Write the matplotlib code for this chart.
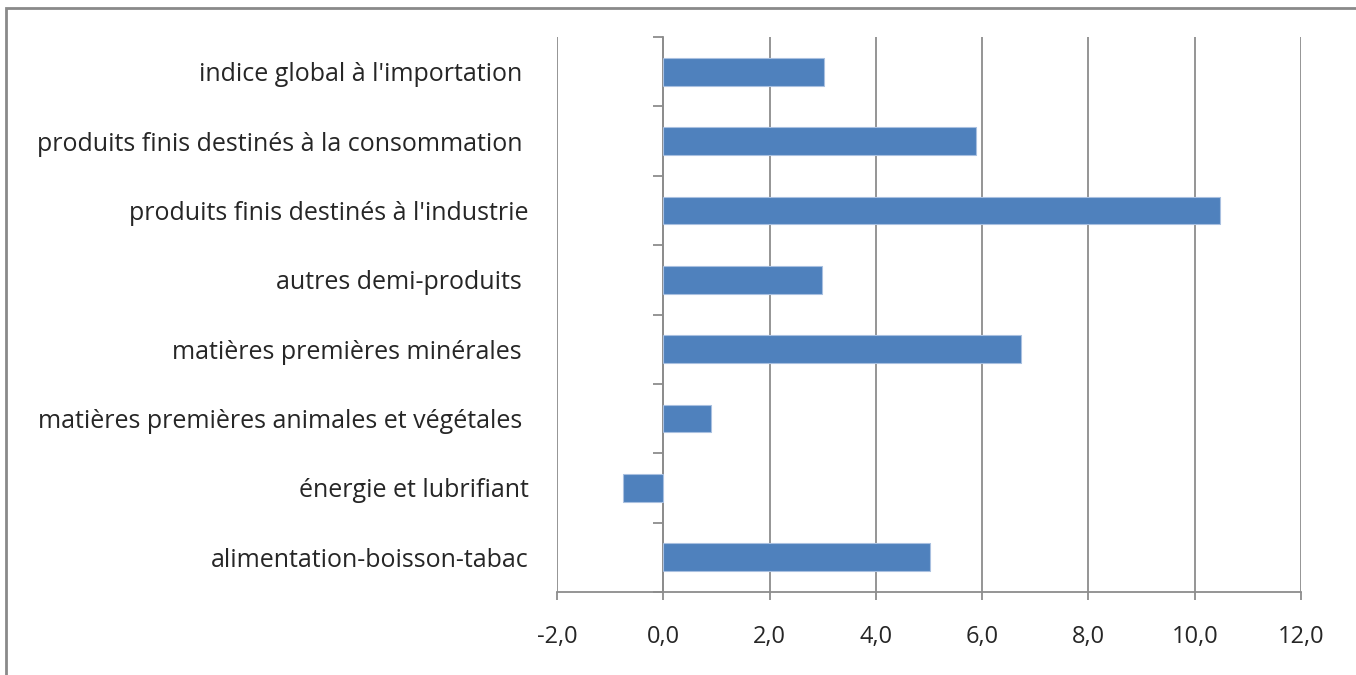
import matplotlib
matplotlib.use("Agg")
import matplotlib.pyplot as plt
from matplotlib.patches import Rectangle
from matplotlib.ticker import FixedLocator, FuncFormatter

categories = [
    "alimentation-boisson-tabac",
    "énergie et lubrifiant",
    "matières premières animales et végétales ",
    "matières premières minérales ",
    "autres demi-produits ",
    "produits finis destinés à l'industrie",
    "produits finis destinés à la consommation ",
    "indice global à l'importation ",
]
values = [5.01, -0.75, 0.90, 6.74, 2.98, 10.47, 5.88, 3.03]
xticks = [-2, 0, 2, 4, 6, 8, 10, 12]

plt.rcParams['font.family'] = ['Open Sans', 'DejaVu Sans']

fig = plt.figure(figsize=(13.56, 6.75), dpi=100)
ax = fig.add_axes([557/1356, 1-592/675, (1301-557)/1356, (592-37)/675])

grid_col = '#8c8c8c'
text_col = '#262626'

y = list(range(len(categories)))
ax.barh(y, values, height=0.4, color='#4f81bd', edgecolor='#a9c0e0', linewidth=0.8, zorder=3)

ax.set_xlim(-2, 12)
ax.set_ylim(-0.5, len(categories) - 0.5)
ax.set_xticks(xticks)
ax.xaxis.set_major_formatter(FuncFormatter(lambda v, p: f"{v:.1f}".replace('.', ',')))
ax.grid(axis='x', color=grid_col, linewidth=1.3, zorder=0)

for s in ['top', 'right']:
    ax.spines[s].set_visible(False)
ax.spines['bottom'].set_color(grid_col)
ax.spines['bottom'].set_linewidth(1.3)
ax.spines['left'].set_position(('data', 0))
ax.spines['left'].set_color(grid_col)
ax.spines['left'].set_linewidth(1.3)

ax.set_yticks(y)
ax.set_yticklabels(categories)
ax.yaxis.set_minor_locator(FixedLocator([i + 0.5 for i in range(-1, len(categories))]))
ax.tick_params(axis='y', which='major', length=0, pad=97, labelsize=18, labelcolor=text_col)
ax.tick_params(axis='y', which='minor', length=7, width=1.3, color=grid_col)
ax.tick_params(axis='x', which='major', length=6, width=1.3, color=grid_col,
               labelsize=17, labelcolor=text_col, pad=18)

fig.patches.append(Rectangle((6/1356, -0.1), 1.2, 1 - 8/675 + 0.1, transform=fig.transFigure,
                             fill=False, edgecolor='#8a8a8a', linewidth=2))

fig.savefig("out.png", dpi=100)
